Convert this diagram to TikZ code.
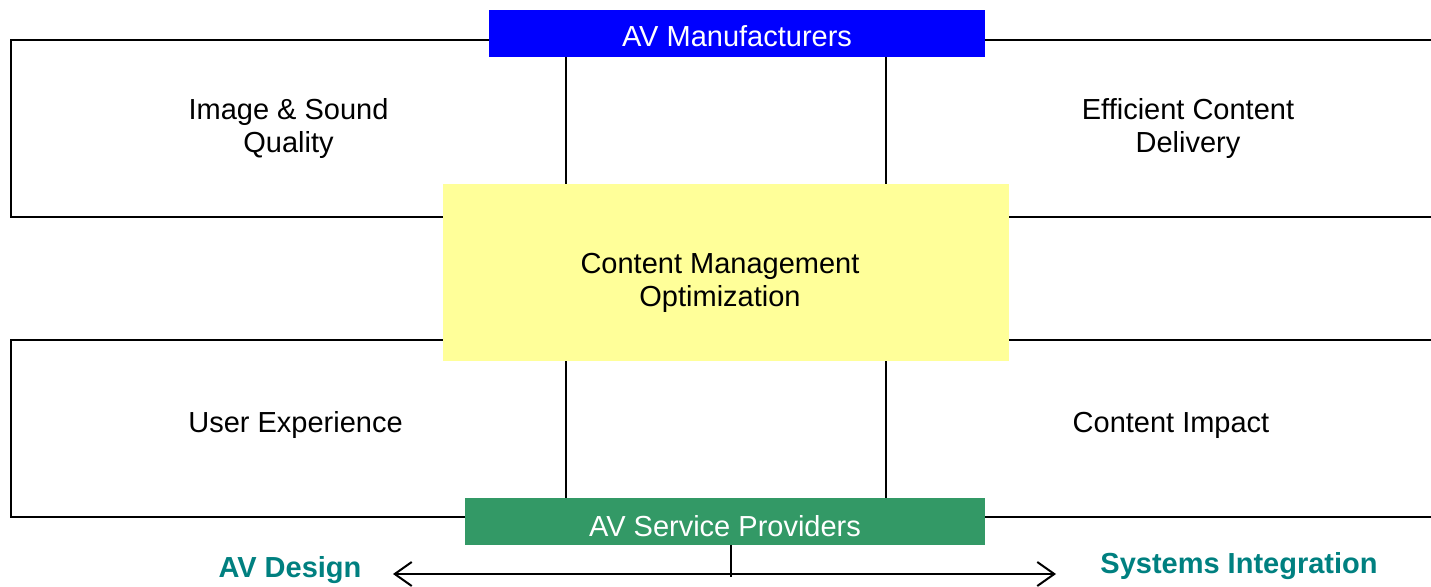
\documentclass[tikz,border=0pt]{standalone}
\usepackage{fontspec}
\setmainfont{Liberation Sans}
\usetikzlibrary{positioning,arrows.meta}

\definecolor{avblue}{RGB}{0,0,255}
\definecolor{avyellow}{RGB}{255,255,153}
\definecolor{avgreen}{RGB}{51,153,102}
\definecolor{avteal}{RGB}{0,128,128}

\begin{document}
\begin{tikzpicture}[
    x=1pt,y=-1pt,
    font=\fontsize{29}{33}\selectfont,
    quad/.style={rectangle,draw,line width=2pt,minimum height=177pt,align=center,inner sep=0pt},
    bar/.style={rectangle,minimum height=47pt,text=white,inner sep=0pt,text depth=0pt},
    core/.style={rectangle,fill=avyellow,minimum width=566pt,minimum height=177pt},
    side/.style={font=\fontsize{29}{33}\selectfont\bfseries,text=avteal,inner sep=0pt},
    >={Straight Barb[length=17pt,width=24pt]}
  ]
  \useasboundingbox (0,0) rectangle (1431,586);

  % the four quadrants, right ones run off the page
  \node(q1) [quad,minimum width=555pt] at (288.5,128.5) {Image \& Sound\\Quality};
  \node(q2) [quad,minimum width=604pt] at (1188,128.5) {Efficient Content\\Delivery};
  \node(q3) [quad,minimum width=555pt,text depth=14pt] at (288.5,428.5) {\hspace*{14pt}User Experience};
  \node(q4) [quad,minimum width=570pt,text depth=13pt] at (1171,428.5) {Content Impact};

  % centre and the two bars on top
  \node(cm) [core] at (726,272.5) {};
  \node(cmt) [align=center,inner sep=0pt] at ([xshift=-6pt,yshift=-10pt]cm.center) {Content Management\\Optimization};
  \node(mf) [bar,fill=avblue,minimum width=496pt,text height=27pt] at (737,33.5) {AV Manufacturers};
  \node(sp) [bar,fill=avgreen,minimum width=520pt,text height=30pt] at (725,521.5) {AV Service Providers};

  % design <-> integration scale
  \node(ds) [side] at (290,570) {AV Design};
  \node(si) [side] at (1239,566.5) {Systems Integration};
  \coordinate (al) at (393,574);
  \coordinate (ar) at (1056,574);
  \draw [<->,line width=2pt] (al) -- (ar);
  \draw [line width=2pt] ([xshift=5.5pt]sp.south) -- ([xshift=5.5pt,yshift=-3pt]sp.south |- al);

\end{tikzpicture}
\end{document}
